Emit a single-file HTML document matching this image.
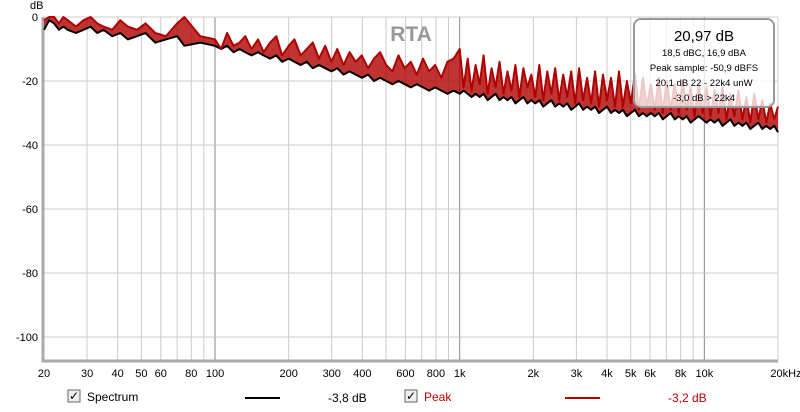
<!DOCTYPE html>
<html><head><meta charset="utf-8"><style>
body{margin:0;background:#fff;font-family:"Liberation Sans",sans-serif;}
svg{display:block}
</style></head><body>
<svg id="c" width="800" height="412" xmlns="http://www.w3.org/2000/svg" font-family="Liberation Sans, sans-serif">
<g id="grid"></g>
<g id="axes"></g>
<g id="series"></g>
<text x="411" y="41" font-size="21" font-weight="bold" fill="#999" text-anchor="middle">RTA</text>
<text x="30" y="9" font-size="11" fill="#000">dB</text>
<g>
<rect x="634" y="19" width="140" height="88" rx="7" fill="rgba(255,255,255,0.78)" stroke="#999" stroke-width="2"/>
<text x="704" y="41" font-size="15" text-anchor="middle">20,97 dB</text>
<text x="704" y="56" font-size="9.5" text-anchor="middle">18,5 dBC, 16,9 dBA</text>
<text x="704" y="71" font-size="9.5" text-anchor="middle">Peak sample: -50,9 dBFS</text>
<text x="704" y="86" font-size="9.5" text-anchor="middle">20,1 dB 22 - 22k4 unW</text>
<text x="704" y="101" font-size="9.5" text-anchor="middle">-3,0 dB &gt; 22k4</text>
</g>
<g>
<g>
<rect x="68" y="390" width="12" height="12" fill="#eee" stroke="#666"/>
<text x="74" y="400" font-size="12" text-anchor="middle">✓</text>
<text x="87" y="401" font-size="12">Spectrum</text>
<line x1="245" y1="398" x2="280" y2="398" stroke="#000" stroke-width="2"/>
<text x="328" y="402" font-size="12">-3,8 dB</text>
</g>
<g>
<rect x="405" y="390" width="12" height="12" fill="#eee" stroke="#666"/>
<text x="411" y="400" font-size="12" text-anchor="middle">✓</text>
<text x="424" y="401" font-size="12" fill="#b00">Peak</text>
<line x1="565" y1="398" x2="600" y2="398" stroke="#b00" stroke-width="2"/>
<text x="668" y="402" font-size="12" fill="#b00">-3,2 dB</text>
</g>
</g>
</svg>
<script>
const freqs=[20,21,22,23,24,25,27,29,31,33,35,38,41,44,48,52,57,63,70,75,87,
100,106,112,119,126,133,141,150,158,168,178,188,200,211,224,237,251,266,282,299,316,335,355,376,398,422,447,473,501,531,562,596,631,668,708,750,794,841,891,944,
1000,1038,1078,1119,1162,1206,1252,1300,1350,1401,1455,1510,1568,1628,1690,1754,1821,1891,1963,2038,2116,2197,2281,2368,2458,2552,2650,2751,2856,2965,3078,3196,3318,3444,3576,3712,3854,4001,4154,4313,4477,4648,4826,5010,5201,5400,5606,5820,6042,6273,6512,6761,7019,7287,7565,7854,8154,8465,8788,9124,9472,9834,10209,10599,11003,11424,11859,12312,12782,13270,13777,14303,14849,15416,16004,16615,17250,17908,18592,19302,20000];
const spectrum=[-4,-1,-2,-4,-3,-4,-5,-4,-3,-5,-4,-6,-5,-7,-6,-5,-8,-7,-6,-9,-8,
-9,-10,-9,-11,-10,-11,-12,-11,-12,-13,-12,-14,-13,-14,-15,-14,-16,-15,-16,-17,-16,-18,-17,-18,-19,-18,-20,-19,-20,-21,-20,-21,-22,-21,-22,-23,-22,-23,-24,-23,
-24,-23,-24,-25,-24,-25,-24,-26,-25,-24,-26,-25,-26,-25,-27,-26,-25,-27,-26,-27,-26,-28,-27,-26,-28,-27,-28,-27,-29,-28,-27,-29,-28,-29,-28,-30,-29,-28,-30,-29,-30,-29,-31,-30,-29,-31,-30,-31,-30,-31,-30,-32,-31,-30,-32,-31,-32,-31,-33,-32,-31,-32,-33,-32,-33,-32,-34,-33,-32,-34,-33,-34,-33,-35,-34,-33,-35,-34,-35,-34,-36];
const peak=[-1,0,0,-2,0,-1,-3,-1,0,-2,-3,-4,-1,-3,-4,-2,-5,-6,-2,0,-6,
-7,-10,-5,-9,-8,-6,-10,-7,-11,-8,-6,-12,-9,-7,-12,-10,-8,-13,-9,-14,-10,-15,-11,-14,-12,-16,-13,-11,-15,-17,-12,-16,-14,-18,-13,-17,-15,-19,-14,-13,
-10,-22,-13,-23,-15,-21,-12,-24,-16,-22,-14,-24,-17,-23,-15,-25,-16,-22,-18,-25,-15,-26,-17,-24,-16,-26,-18,-25,-17,-27,-16,-26,-19,-27,-17,-28,-18,-26,-19,-28,-17,-28,-20,-27,-18,-29,-19,-28,-21,-29,-19,-30,-20,-29,-21,-30,-20,-29,-22,-31,-21,-30,-22,-31,-23,-30,-22,-32,-24,-31,-23,-32,-25,-33,-24,-32,-26,-33,-27,-32,-28,-34];
const yTicks=[0,-20,-40,-60,-80,-100];
const xTickVals=[20,30,40,50,60,80,100,200,300,400,600,800,1000,2000,3000,4000,5000,6000,8000,10000,20000];
const xTickLabels=["20","30","40","50","60","80","100","200","300","400","600","800","1k","2k","3k","4k","5k","6k","8k","10k","20kHz"];
const X0=44,X1=778,Y0=17,PPD=3.2,YB=360;
const NS="http://www.w3.org/2000/svg";
const xs=f=>X0+(X1-X0)*Math.log10(f/20)/3;
const ys=v=>Y0-v*PPD;
function mk(t,a,p){const e=document.createElementNS(NS,t);for(const k in a)e.setAttribute(k,a[k]);p.appendChild(e);return e;}
const grid=document.getElementById('grid'),axes=document.getElementById('axes'),ser=document.getElementById('series');
mk('rect',{x:X0,y:Y0,width:X1-X0,height:YB-Y0,fill:'#fff'},grid);
[10,100,1000,10000].forEach(d=>{for(let m=1;m<10;m++){const fr=d*m;if(fr<20||fr>20000)continue;
const major=(m===1);const l=mk('line',{x1:xs(fr),x2:xs(fr),y1:Y0,y2:YB,stroke:major?'#888':'#ccc','stroke-width':1},grid);

}});
yTicks.forEach(v=>{const l=mk('line',{x1:X0,x2:X1,y1:ys(v),y2:ys(v),stroke:'#ccc'},grid);


const t=mk('text',{x:38,y:ys(v)+4,'font-size':11,'text-anchor':'end'},axes);t.textContent=v;

});
xTickVals.forEach((f,i)=>{const t=mk('text',{x:xs(f)+(i===xTickVals.length-1?8:0),y:377,'font-size':11,'text-anchor':'middle'},axes);t.textContent=xTickLabels[i];

});
mk('path',{d:`M${X0-1} ${Y0} V${YB+1} H${X1}`,fill:'none',stroke:'#aaa','stroke-width':3},axes);
const n=Math.min(freqs.length,spectrum.length,peak.length);
function pts(vals){const a=[];for(let i=0;i<n;i++)a.push(xs(freqs[i]).toFixed(1)+' '+ys(vals[i]).toFixed(1));return a;}
function line(vals,col,name){const d='M'+pts(vals).join('L');
const p=mk('path',{d:d,fill:'none',stroke:col,'stroke-width':2,'stroke-linejoin':'round'},ser);

}
const band=mk('path',{d:'M'+pts(peak).join('L')+'L'+pts(spectrum).reverse().join('L')+'Z',fill:'#b00000','fill-opacity':0.8,stroke:'none'},ser);


line(spectrum,'#000','spectrum-line');
line(peak,'#b00000','peak-line');
</script>
</body></html>
